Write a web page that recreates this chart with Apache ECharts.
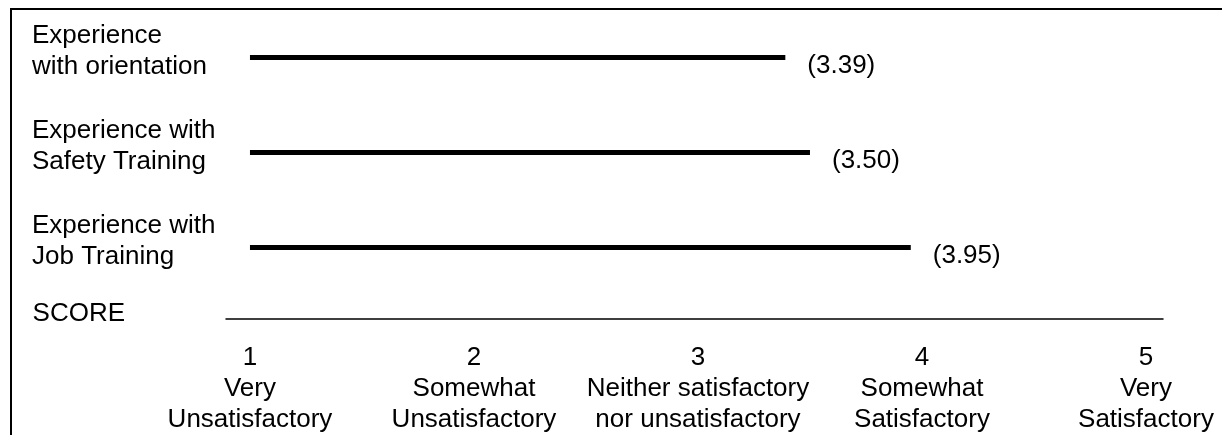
<!DOCTYPE html>
<html>
<head>
<meta charset="utf-8">
<script src="https://cdn.jsdelivr.net/npm/echarts@6/dist/echarts.min.js"></script>
<style>
  html, body { margin: 0; padding: 0; background: #fff; }
  #chart { width: 1222px; height: 435px; }
</style>
</head>
<body>
<div id="chart"></div>
<script>
// ---- data ----
const categories = [
  'Experience\nwith orientation',
  'Experience with\nSafety Training',
  'Experience with\nJob Training'
];
const scores = [3.39, 3.50, 3.95];
const scoreLabels = ['(3.39)', '(3.50)', '(3.95)'];
const barStart = 1;
const tickValues = [1, 2, 3, 4, 5];
const tickLabels = [
  '1\nVery\nUnsatisfactory',
  '2\nSomewhat\nUnsatisfactory',
  '3\nNeither satisfactory\nnor unsatisfactory',
  '4\nSomewhat\nSatisfactory',
  '5\nVery\nSatisfactory'
];
const axisName = 'SCORE';

// ---- chart ----
const FONT = '"Liberation Sans", Arial, sans-serif';
const chart = echarts.init(document.getElementById('chart'), null, { renderer: 'canvas' });

const barData = scores.map((v, i) => [barStart, v, i]);

chart.setOption({
  backgroundColor: '#fff',
  animation: false,
  textStyle: { fontFamily: FONT, color: '#000' },
  grid: { left: 226, right: 59, top: 10, bottom: 137, containLabel: false },
  graphic: [{
    type: 'rect',
    shape: { x: 11, y: 9, width: 1400, height: 700 },
    style: { fill: 'none', stroke: '#000', lineWidth: 2 },
    silent: true
  }],
  xAxis: {
    type: 'value',
    min: 0.893,
    max: 5.076,
    offset: 24,
    name: axisName,
    nameLocation: 'start',
    nameGap: 101,
    nameTextStyle: {
      fontFamily: FONT, fontSize: 26, color: '#000',
      verticalAlign: 'bottom', lineHeight: 10
    },
    axisLine: { show: true, lineStyle: { color: '#000', width: 1.5 } },
    axisTick: { show: false },
    splitLine: { show: false },
    axisLabel: {
      customValues: tickValues,
      formatter: v => {
        const k = tickValues.indexOf(Math.round(v * 1000) / 1000);
        return k >= 0 ? tickLabels[k] : '';
      },
      fontFamily: FONT,
      fontSize: 26,
      lineHeight: 31,
      color: '#000',
      margin: 23,
      align: 'center'
    }
  },
  yAxis: {
    type: 'category',
    data: categories,
    inverse: true,
    axisLine: { show: false },
    axisTick: { show: false },
    splitLine: { show: false },
    axisLabel: {
      interval: 0,
      align: 'left',
      margin: 194,
      formatter: v => v.split('\n').map(s => '{t|' + s + '}').join('\n') + '\n{g| }',
      rich: {
        t: { fontFamily: FONT, fontSize: 26, lineHeight: 31, color: '#000' },
        g: { fontSize: 4, lineHeight: 12 }
      }
    }
  },
  series: [{
    type: 'custom',
    data: barData,
    encode: { x: [0, 1], y: 2 },
    renderItem: (params, api) => {
      const p0 = api.coord([api.value(0), api.value(2)]);
      const p1 = api.coord([api.value(1), api.value(2)]);
      return {
        type: 'group',
        children: [
          {
            type: 'line',
            shape: { x1: p0[0], y1: p0[1], x2: p1[0], y2: p1[1] },
            style: { stroke: '#000', lineWidth: 5, lineCap: 'butt' }
          },
          {
            type: 'text',
            x: p1[0] + 22,
            y: p1[1] + 8,
            style: {
              text: scoreLabels[params.dataIndex],
              fill: '#000',
              font: '26px ' + FONT,
              textAlign: 'left',
              textVerticalAlign: 'middle',
              verticalAlign: 'middle'
            }
          }
        ]
      };
    }
  }]
});
</script>
</body>
</html>
